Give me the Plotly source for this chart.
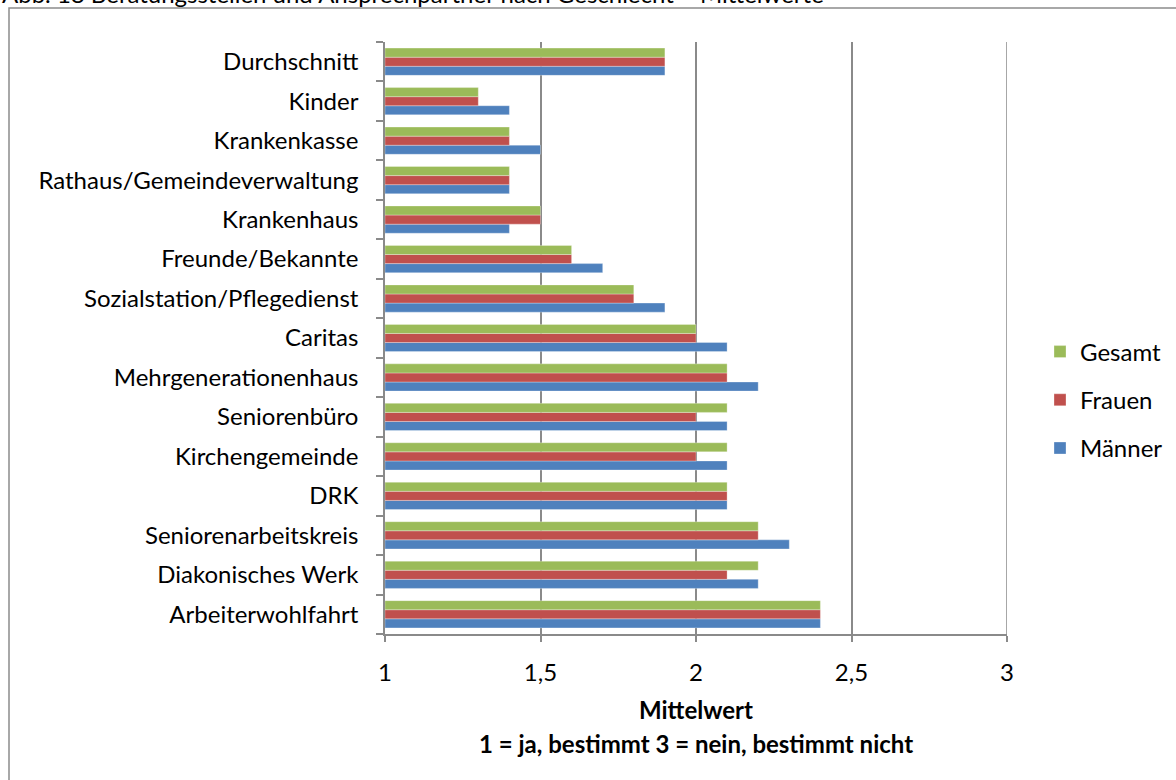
import plotly.graph_objects as go

# Categories listed bottom-to-top on the y axis
categories = [
    "Arbeiterwohlfahrt", "Diakonisches Werk", "Seniorenarbeitskreis", "DRK",
    "Kirchengemeinde", "Seniorenbüro", "Mehrgenerationenhaus", "Caritas",
    "Sozialstation/Pflegedienst", "Freunde/Bekannte", "Krankenhaus",
    "Rathaus/Gemeindeverwaltung", "Krankenkasse", "Kinder", "Durchschnitt",
]
maenner = [2.4, 2.2, 2.3, 2.1, 2.1, 2.1, 2.2, 2.1, 1.9, 1.7, 1.4, 1.4, 1.5, 1.4, 1.9]
frauen = [2.4, 2.1, 2.2, 2.1, 2.0, 2.0, 2.1, 2.0, 1.8, 1.6, 1.5, 1.4, 1.4, 1.3, 1.9]
gesamt = [2.4, 2.2, 2.2, 2.1, 2.1, 2.1, 2.1, 2.0, 1.8, 1.6, 1.5, 1.4, 1.4, 1.3, 1.9]

x_ticks = [1, 1.5, 2, 2.5, 3]
x_tick_labels = ["1", "1,5", "2", "2,5", "3"]

FONT = "Lato, Open Sans, sans-serif"
FS = 24
GRID = "#8a8a8a"
AXIS_MIN = 1

# (name, values, colour, legend position)
series = [
    ("Männer", maenner, "#4F81BD", 3),
    ("Frauen", frauen, "#C0504D", 2),
    ("Gesamt", gesamt, "#9BBB59", 1),
]

fig = go.Figure()
for name, vals, color, rank in series:
    # bars grow from the axis origin (1), so their length is value - 1
    fig.add_trace(go.Bar(
        y=categories, x=[v - AXIS_MIN for v in vals], base=AXIS_MIN,
        name=name, orientation="h",
        customdata=vals,
        hovertemplate="%{y}: %{customdata}<extra>" + name + "</extra>",
        marker=dict(color=color, line=dict(color="rgba(255,255,255,0.5)", width=0.6)),
        legendgroup=name, legendrank=rank,
    ))

L, R, T, B = 385, 169, 42, 146
W, H = 1176, 780
pw, ph = W - L - R, H - T - B

def px_x(px):
    return (px - L) / pw

def px_y(py):
    return (H - B - py) / ph

fig.update_layout(
    width=W, height=H,
    margin=dict(l=L, r=R, t=T, b=B, pad=0, autoexpand=False),
    paper_bgcolor="white", plot_bgcolor="white",
    barmode="group", bargap=0.31, bargroupgap=0,
    font=dict(family=FONT, size=FS, color="#000000"),
    showlegend=True,
    legend=dict(
        x=px_x(1040), y=px_y(400), xanchor="left", yanchor="middle",
        traceorder="grouped", tracegroupgap=14,
        font=dict(family=FONT, size=FS),
        itemwidth=30,
    ),
    xaxis=dict(
        range=[1, 3], tickvals=x_ticks, ticktext=x_tick_labels,
        showgrid=True, gridcolor=GRID, gridwidth=1.5,
        showline=True, linecolor=GRID, linewidth=1.5,
        ticks="outside", ticklen=6, tickcolor=GRID, tickwidth=1.5,
        ticklabelstandoff=10, zeroline=False,
        tickfont=dict(family=FONT, size=FS),
    ),
    yaxis=dict(
        type="category", categoryorder="array", categoryarray=categories,
        showline=True, linecolor=GRID, linewidth=1.5,
        ticks="outside", tickson="boundaries", ticklen=7, tickcolor=GRID, tickwidth=1.5,
        ticklabelstandoff=20, showgrid=False,
        tickfont=dict(family=FONT, size=FS),
    ),
    shapes=[
        # outer chart frame
        dict(type="rect", xref="paper", yref="paper",
             x0=px_x(9), x1=px_x(1190), y0=px_y(800), y1=px_y(8),
             line=dict(color="#8c8c8c", width=1.5), fillcolor="rgba(0,0,0,0)",
             layer="below"),
        # gridline at the upper end of the value axis
        dict(type="line", xref="x", yref="paper", x0=3, x1=3, y0=0, y1=1,
             line=dict(color=GRID, width=1.5), layer="below"),
    ],
    annotations=[
        dict(text="<b>Mittelwert</b>", xref="paper", yref="paper",
             x=0.5, y=px_y(709), xanchor="center", yanchor="middle",
             showarrow=False, font=dict(family=FONT, size=FS)),
        dict(text="<b>1 = ja, bestimmt 3 = nein, bestimmt nicht</b>",
             xref="paper", yref="paper",
             x=0.5, y=px_y(743), xanchor="center", yanchor="middle",
             showarrow=False, font=dict(family=FONT, size=FS)),
        dict(text="Abb. 18 Beratungsstellen und Ansprechpartner nach Geschlecht – Mittelwerte",
             xref="paper", yref="paper",
             x=px_x(0), y=px_y(-7), xanchor="left", yanchor="middle",
             showarrow=False, font=dict(family=FONT, size=FS)),
    ],
)

fig.write_html("out.html")
